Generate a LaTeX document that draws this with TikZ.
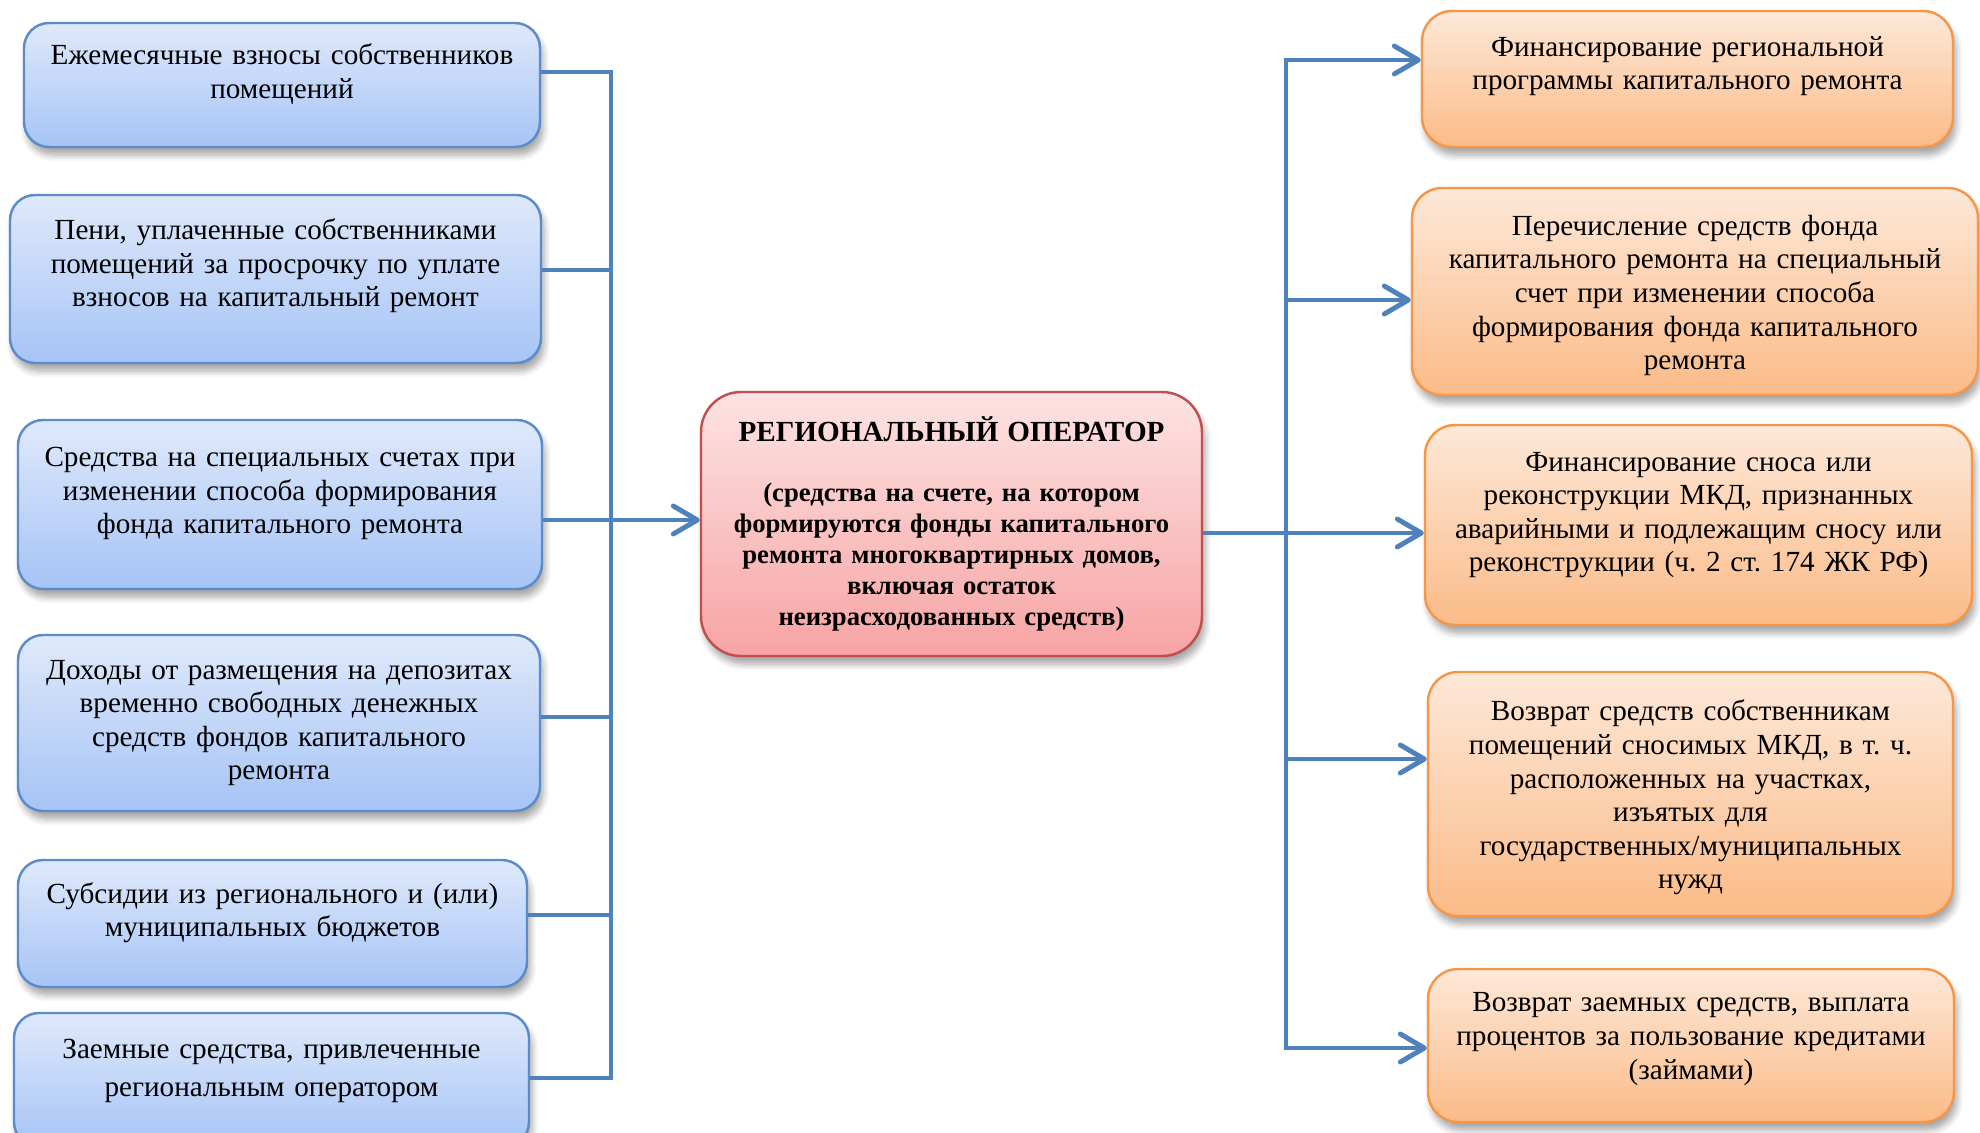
\documentclass[tikz,border=0pt]{standalone}
\usepackage{fontspec}
\setmainfont{Liberation Serif}
\usetikzlibrary{arrows.meta,shadows.blur}
\definecolor{lineblue}{HTML}{4F81BD}
\definecolor{srcline}{HTML}{5B8BC8}
\definecolor{srctop}{HTML}{DFE9FB}
\definecolor{srcbot}{HTML}{A6C4F6}
\definecolor{useline}{HTML}{F79646}
\definecolor{usetop}{HTML}{FDE8D8}
\definecolor{usebot}{HTML}{FBBB88}
\definecolor{hubline}{HTML}{C0504D}
\definecolor{hubtop}{HTML}{FDE3E3}
\definecolor{hubbot}{HTML}{F7A4A4}
\begin{document}
\frenchspacing
\begin{tikzpicture}[x=0.1mm,y=-0.1mm,
  box/.style={draw,line width=0.7pt,align=center,inner xsep=1mm,
    font=\fontsize{8.3}{9.55}\selectfont,
    blur shadow={shadow xshift=0.3mm,shadow yshift=-0.8mm,shadow blur steps=6,shadow opacity=35}},
  dims/.style n args={3}{minimum width=#1,text width=#1-3mm,minimum height=#2,
    execute at end node={\endgraf\kern#3}},
  src/.style={box,draw=srcline,top color=srctop,bottom color=srcbot,rounded corners=2.5mm},
  use/.style={box,draw=useline,top color=usetop,bottom color=usebot,rounded corners=3mm},
  hub/.style={box,draw=hubline,top color=hubtop,bottom color=hubbot,rounded corners=4mm,
    font=\fontsize{7.6}{8.8}\selectfont\bfseries},
  bus/.style={lineblue,line width=1.4pt},
  arr/.style={bus,-{Straight Barb[length=2.4mm,width=2.8mm,line cap=round,line join=round]}}]
\useasboundingbox (0,0) rectangle (1980,1133);

% sources
\node[src,dims={51.6mm}{12.4mm}{2.2mm}] (l1) at (282,85) {Ежемесячные взносы собственников\\помещений};
\node[src,dims={53.1mm}{16.8mm}{2.6mm}] (l2) at (275.5,279) {Пени, уплаченные собственниками\\помещений за просрочку по уплате\\взносов на капитальный ремонт};
\node[src,dims={52.4mm}{16.9mm}{2.2mm}] (l3) at (280,504.5) {Средства на специальных счетах при\\изменении способа формирования\\фонда капитального ремонта};
\node[src,dims={52.2mm}{17.6mm}{0mm}] (l4) at (279,723) {Доходы от размещения на депозитах\\временно свободных денежных\\средств фондов капитального\\ремонта};
\node[src,dims={50.9mm}{12.7mm}{2.2mm}] (l5) at (272.5,923.5) {Субсидии из регионального и (или)\\муниципальных бюджетов};
\node[src,dims={51.5mm}{13.4mm}{1.8mm}] (l6) at (271.5,1080) {Заемные средства, привлеченные\\[0.5mm]региональным оператором};

% operator
\node[hub,dims={50.1mm}{26.4mm}{0mm}] (op) at (951.5,524) {{\fontsize{8.3}{8.8}\selectfont РЕГИОНАЛЬНЫЙ ОПЕРАТОР}\\[2.9mm](средства на счете, на котором\\формируются фонды капитального\\ремонта многоквартирных домов,\\включая остаток\\неизрасходованных средств)};

% uses
\node[use,dims={53.1mm}{13.6mm}{2.6mm}] (r1) at (1687.5,79) {Финансирование региональной\\программы капитального ремонта};
\node[use,dims={56.6mm}{20.7mm}{-0.8mm}] (r2) at (1695,291.5) {Перечисление средств фонда\\капитального ремонта на специальный\\счет при изменении способа\\формирования фонда капитального\\ремонта};
\node[use,dims={54.7mm}{20mm}{2mm}] (r3) at (1698.5,525) {Финансирование сноса или\\реконструкции МКД, признанных\\аварийными и подлежащим сносу или\\реконструкции (ч. 2 ст. 174 ЖК РФ)};
\node[use,dims={52.5mm}{24.4mm}{-0.7mm}] (r4) at (1690.5,794) {Возврат средств собственникам\\помещений сносимых МКД, в т. ч.\\расположенных на участках,\\изъятых для\\государственных/муниципальных\\нужд};
\node[use,dims={52.6mm}{15.3mm}{1.3mm}] (r5) at (1691,1045.5) {Возврат заемных средств, выплата\\процентов за пользование кредитами\\(займами)};

% buses
\coordinate (bl1) at (611,72);
\coordinate (bl2) at (611,270);
\coordinate (bl3) at (611,520);
\coordinate (bl4) at (611,717);
\coordinate (bl5) at (611,915);
\coordinate (bl6) at (611,1078);
\coordinate (br1) at (1286,60);
\coordinate (br2) at (1286,300);
\coordinate (br3) at (1286,533);
\coordinate (br4) at (1286,759);
\coordinate (br5) at (1286,1048);

\draw[bus,line cap=rect] (bl1) -- (bl6);
\foreach \i in {1,...,6} {
	\draw[bus] (l\i.east |- bl\i) -- (bl\i);
}
\draw[arr] (bl3) -- (op.west |- bl3);

\draw[bus] (op.east |- br3) -- (br3);
\draw[bus,line cap=rect] (br1) -- (br5);
\foreach \i in {1,...,5} {
	\draw[arr] (br\i) -- (r\i.west |- br\i);
}
\end{tikzpicture}
\end{document}
